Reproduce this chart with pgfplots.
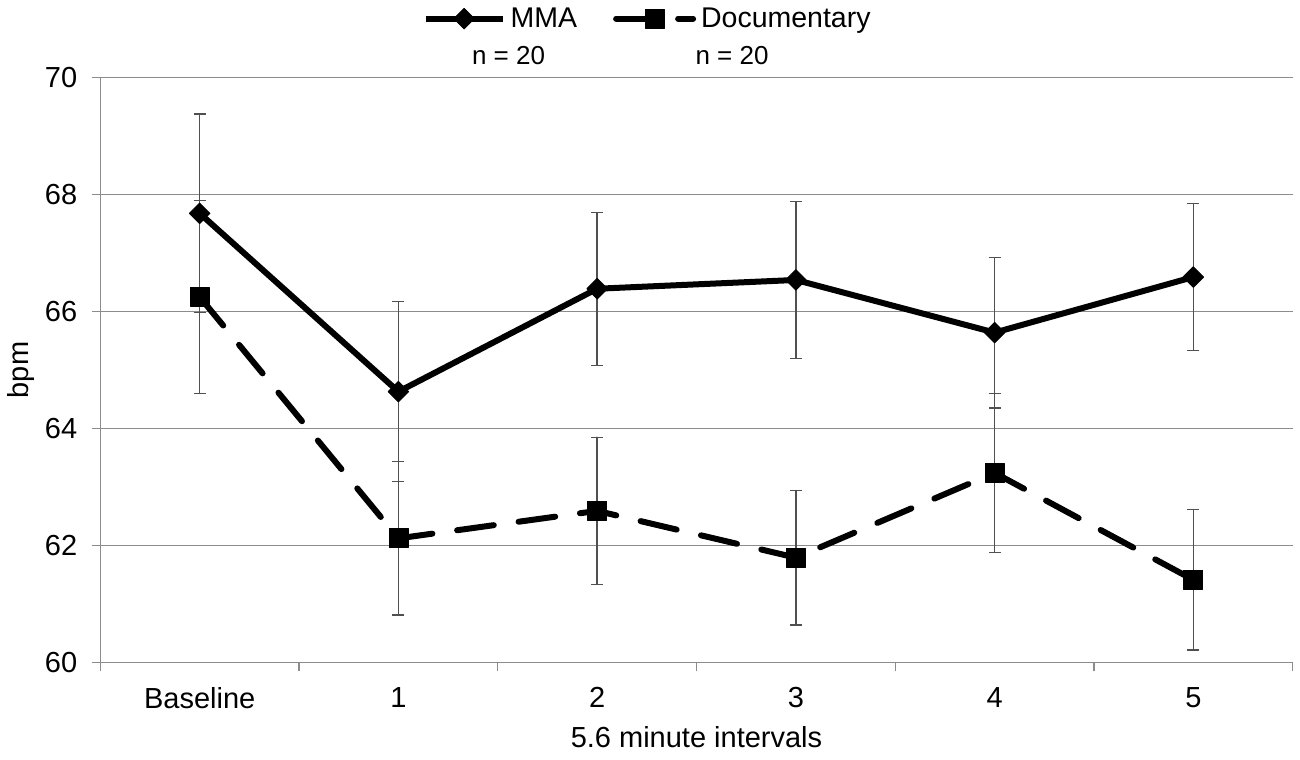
\documentclass[border=0pt]{standalone}
\usepackage{fontspec}
\setmainfont{Liberation Sans}
\usepackage{pgfplots}
\pgfplotsset{compat=1.18}
\definecolor{gridc}{RGB}{140,140,140}
\definecolor{errc}{RGB}{80,80,80}
\begin{document}
\begin{tikzpicture}
\path[use as bounding box] (0,0) rectangle (1300bp,760bp);
\begin{axis}[
  at={(100.3bp,97.7bp)}, anchor=south west,
  scale only axis, width=1192.4bp, height=584.6bp,
  xmin=-0.5, xmax=5.5, ymin=60, ymax=70,
  axis x line*=bottom, axis y line*=left,
  axis line style={draw=gridc, line width=1.3bp},
  ytick={60,62,...,70},
  ymajorgrids, major grid style={draw=gridc, line width=1.3bp},
  xtick={0,...,5}, xticklabels={Baseline,1,2,3,4,5},
  minor xtick={-0.5,0.5,...,5.5},
  tick align=outside,
  major tick length=8.6bp, minor tick length=9bp,
  major x tick style={draw=none},
  ytick style={draw=gridc, line width=1.3bp},
  minor x tick style={draw=gridc, line width=1.3bp},
  tick label style={font=\fontsize{29bp}{33bp}\selectfont},
  yticklabel style={xshift=-11bp},
  xticklabel style={yshift=-13bp},
  /pgf/number format/assume math mode=true,
  xlabel={5.6 minute intervals}, ylabel={bpm},
  every axis x label/.style={at={(axis description cs:0.5,-0.1449)},anchor=base,font=\fontsize{29bp}{33bp}\selectfont},
  every axis y label/.style={at={(axis description cs:-0.0665,0.5)},rotate=90,anchor=center,font=\fontsize{29bp}{33bp}\selectfont},
  legend columns=2,
  legend style={at={(axis description cs:0.459,1.101)}, anchor=center, draw=none, fill=none,
    font=\fontsize{28.5bp}{32bp}\selectfont,
    /tikz/every odd column/.append style={column sep=3bp},
    /tikz/every even column/.append style={column sep=34bp}},
  legend image code/.code={\draw[#1, mark repeat=2, mark phase=2] plot coordinates {(0bp,0bp) (38.5bp,0bp) (77bp,0bp)};},
]
\addplot[black, line width=6bp, line join=round,
  mark=square*, mark size=7.3bp, mark options={rotate=45, solid, line width=0.8bp, fill=black},
  error bars/.cd, y dir=both, y explicit,
  error bar style={line width=1.3bp, errc, solid},
  error mark options={rotate=90, line width=1.3bp, errc, mark size=6bp, solid}]
coordinates {(0,67.68) +- (0,1.70) (1,64.63) +- (0,1.54) (2,66.39) +- (0,1.31)
             (3,66.54) +- (0,1.34) (4,65.64) +- (0,1.29) (5,66.59) +- (0,1.26)};
\addlegendentry{MMA}
\addplot[black, line width=6bp, line cap=round, line join=round, dash pattern=on 37bp off 25bp,
  mark=square*, mark size=9.5bp, mark options={solid, line width=0.8bp, fill=black},
  error bars/.cd, y dir=both, y explicit,
  error bar style={line width=1.3bp, errc, solid},
  error mark options={rotate=90, line width=1.3bp, errc, mark size=6bp, solid}]
coordinates {(0,66.25) +- (0,1.65) (1,62.12) +- (0,1.31) (2,62.59) +- (0,1.26)
             (3,61.79) +- (0,1.15) (4,63.24) +- (0,1.36) (5,61.41) +- (0,1.20)};
\addlegendentry{Documentary}
\end{axis}
\node[anchor=base, font=\fontsize{26bp}{30bp}\selectfont] at (508.5bp,695bp) {n = 20};
\node[anchor=base, font=\fontsize{26bp}{30bp}\selectfont] at (732bp,695bp) {n = 20};
\end{tikzpicture}
\end{document}
